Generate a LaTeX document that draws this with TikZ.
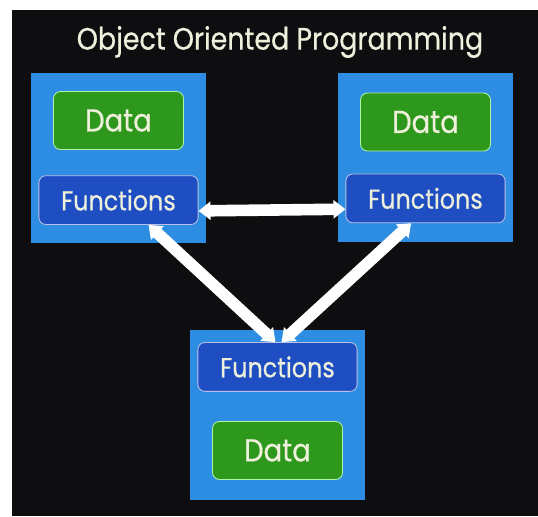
\documentclass[tikz,border=0pt]{standalone}
\usepackage{fontspec}
\setmainfont{Poppins}
\newfontfamily\boxfont[FakeStretch=0.87, FakeBold=0.5]{Poppins}
\usetikzlibrary{positioning, arrows.meta, calc}
\definecolor{bgdark}{HTML}{0E0E10}
\definecolor{objblue}{HTML}{2C8DE2}
\definecolor{datagreen}{HTML}{2E981C}
\definecolor{funcblue}{HTML}{1E4EC2}
\definecolor{txtcream}{HTML}{EEF0DC}

\begin{document}
\begin{tikzpicture}[
  x=0.025cm, y=-0.025cm,
  every node/.style={text=txtcream},
  title/.style   = {font=\boxfont\fontsize{22}{26}\selectfont, inner sep=0pt},
  objbox/.style  = {fill=objblue, inner sep=0pt, minimum width=4.35cm, minimum height=4.23cm},
  databox/.style = {draw=green!25!txtcream, line width=0.6pt, fill=datagreen, rounded corners=5pt,
                    minimum width=3.25cm, minimum height=1.45cm, inner sep=0pt,
                    font=\boxfont\fontsize{22.5}{26}\selectfont},
  funcbox/.style = {draw=blue!20!txtcream, line width=0.6pt, fill=funcblue, rounded corners=5pt,
                    minimum width=3.98cm, minimum height=1.22cm, inner sep=0pt,
                    font=\boxfont\fontsize{19.5}{23}\selectfont},
  link/.style    = {{Triangle[length=0.3cm, width=0.45cm]}-{Triangle[length=0.3cm, width=0.45cm]},
                    white, line width=0.29cm},
]
  \fill[white] (0,0) rectangle (538,516);
  \fill[bgdark] (12,10) rectangle (538,516);
  \node[title] (head) at (280,42) {Object Oriented Programming};

  % three objects
  \node[objbox] (lobj) at (118.5,158) {};
  \node[objbox] (robj) at (425.5,157.5) {};
  \node[objbox] (bobj) at (277.5,415) {};

  \node[databox, below=0.45cm of lobj.north] (ldata) {Data};
  \node[funcbox, above=0.45cm of lobj.south] (lfunc) {Functions};
  \node[databox, below=0.5cm of robj.north]  (rdata) {Data};
  \node[funcbox, above=0.48cm of robj.south] (rfunc) {Functions};
  \node[funcbox, below=0.3cm of bobj.north]  (bfunc) {Functions};
  \node[databox, above=0.5cm of bobj.south]  (bdata) {Data};

  % message links
  \draw[link] ([yshift=-0.27cm]lfunc.east) -- ([yshift=-0.27cm]rfunc.west);
  \draw[link] ([xshift=0.75cm]lfunc.south) -- ([xshift=-0.05cm]bfunc.north);
  \draw[link] ([xshift=0.1cm]bfunc.north) -- ([xshift=-0.36cm]rfunc.south);
\end{tikzpicture}
\end{document}
